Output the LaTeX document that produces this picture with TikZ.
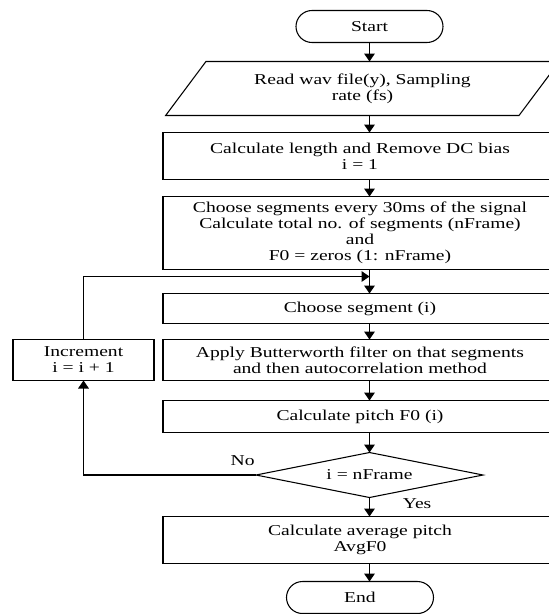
\documentclass[tikz,border=0pt]{standalone}
\usepackage{fontspec}
\setmainfont{Liberation Serif}[FakeStretch=1.3]
\usetikzlibrary{positioning,calc,shapes.geometric,arrows.meta}

\begin{document}
\begin{tikzpicture}[
    x=0.75pt, y=-0.75pt,
    font=\fontsize{11.3}{12}\selectfont,
    every node/.style={outer sep=0pt},
    block/.style={
        draw,
        line width=0.8pt,
        minimum width=295.5pt,
        align=center,
        inner sep=0pt
    },
    term/.style={
        draw,
        line width=0.8pt,
        rounded corners=12pt,
        minimum width=110.25pt,
        minimum height=24pt
    },
    io/.style={
        draw,
        line width=0.8pt,
        trapezium,
        trapezium left angle=49,
        trapezium right angle=131,
        trapezium stretches=true,
        minimum width=296.25pt,
        minimum height=40.5pt,
        align=center,
        inner sep=1pt
    },
    decision/.style={
        draw,
        line width=0.8pt,
        diamond,
        aspect=5,
        minimum width=170.25pt,
        minimum height=33.75pt,
        inner sep=0pt
    },
    arrow/.style={-{Triangle[width=8pt,length=6pt]}, line width=0.8pt},
    note/.style={inner sep=1pt}
]

\useasboundingbox (0,0) rectangle (549,614);

\node[term] (start) at (369.5,26.5) {Start};

\node[io, below=14.25pt of start, xshift=-5.25pt] (read)
    {Read wav file(y), Sampling\\rate (fs)};
\node[block, minimum height=35.25pt, below=12.75pt of read, xshift=-1.875pt] (calc)
    {Calculate length and Remove DC bias\\i = 1};
\node[block, minimum height=54.75pt, below=12.75pt of calc] (seg)
    {Choose segments every 30ms of the signal\\Calculate total no. of segments (nFrame)\\and\\F0 = zeros (1: nFrame)};
\node[block, minimum height=22.5pt, below=18pt of seg] (choose) {Choose segment (i)};
\node[block, minimum height=30.75pt, below=12pt of choose] (apply)
    {Apply Butterworth filter on that segments\\and then autocorrelation method};
\node[block, minimum height=24pt, below=15pt of apply] (pitch) {Calculate pitch F0 (i)};
\node[decision, below=15pt of pitch, xshift=7.125pt] (check) {i = nFrame};
\node[block, minimum height=35.25pt, below=14.25pt of check, xshift=-7.125pt] (avg)
    {Calculate average pitch\\AvgF0};
\node[term, below=13.5pt of avg] (stop) {End};

\node[block, minimum width=105.75pt, minimum height=30.75pt, left=6.75pt of apply] (incr)
    {Increment\\i = i + 1};

\coordinate (join) at ($(seg.south -| start)+(0,-5.25pt)$);

% main line
\draw[arrow] (start.south) -- (start.south |- read.north);
\draw[arrow] (read.south -| start) -- (calc.north -| start);
\draw[arrow] (calc.south -| start) -- (seg.north -| start);
\draw[arrow] (seg.south -| start) -- (choose.north -| start);
\draw[arrow] (choose.south -| start) -- (apply.north -| start);
\draw[arrow] (apply.south -| start) -- (pitch.north -| start);
\draw[arrow] (pitch.south -| start) -- (check.north);
\draw[arrow] (check.south) -- (avg.north -| check);
\draw[arrow] (avg.south -| check) -- (stop.north -| check);

% loop back
\draw[arrow] (check.west) -| (incr.south);
\draw[arrow] (incr.north) |- (join);

\node[note, above left=6pt and 0pt of check.west] (no) {No};
\node[note, right=24pt of check.south, yshift=-4.5pt] (yes) {Yes};

\end{tikzpicture}
\end{document}
